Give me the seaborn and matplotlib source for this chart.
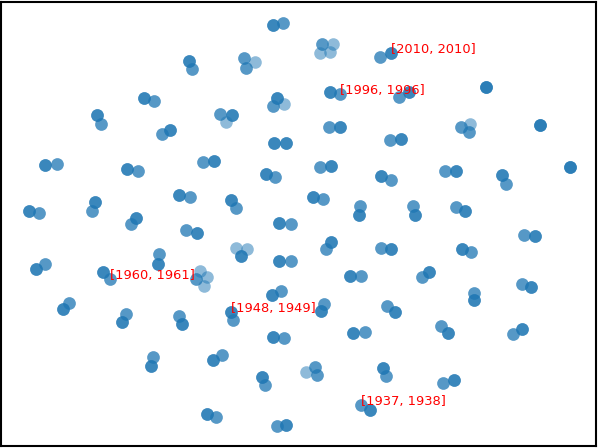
import matplotlib
matplotlib.use("Agg")
import matplotlib.pyplot as plt
import numpy as np
import pandas as pd
import seaborn as sns

# ── Embedding coordinates (y grows upwards) ───────────────────────────────────
# n = how many points sit on top of each other at that spot
x = [273, 283, 189, 192, 244, 246, 255, 144, 154, 97, 101, 220, 232, 226,
     277, 273, 284, 162, 170, 274, 286,
     322, 333, 320, 330, 380, 391, 330, 340, 399, 409, 486, 329, 340, 390, 401,
     461, 470, 469, 540,
     45, 57, 127, 138, 203, 214, 266, 275, 29, 39, 95, 92, 179, 190, 231, 236,
     136, 131, 186, 197, 279, 291, 236, 247, 241, 159, 158, 279, 291, 45, 36,
     103, 110, 200, 196, 207, 204, 281, 272,
     320, 331, 381, 391, 445, 456, 502, 506, 570, 313, 323, 360, 359, 413, 415,
     456, 465, 524, 535, 331, 326, 381, 391, 462, 471, 350, 361, 422, 429,
     522, 531, 474, 474,
     63, 69, 126, 122, 179, 182, 231, 233, 273, 284, 153, 151, 222, 213,
     262, 265, 207, 216, 277, 286,
     324, 321, 387, 395, 353, 365, 441, 448, 513, 522, 306, 315, 317,
     383, 386, 443, 454, 361, 370]
y = [423, 425, 387, 379, 390, 380, 386, 350, 347, 333, 324, 334, 333, 326,
     350, 342, 344, 314, 318, 305, 305,
     404, 404, 395, 396, 391, 395, 356, 354, 351, 356, 361, 321, 321, 308, 309,
     321, 324, 316, 323,
     283, 284, 279, 277, 286, 287, 274, 271, 237, 235, 246, 237, 253, 251, 248, 240,
     230, 224, 218, 215, 225, 224, 200, 199, 192, 194, 184, 187, 187, 184, 179,
     176, 169, 177, 169, 171, 162, 157, 153,
     281, 282, 272, 268, 277, 277, 273, 264, 281, 251, 249, 242, 233, 242, 233,
     241, 237, 213, 212, 206, 199, 200, 199, 199, 196, 172, 172, 171, 176,
     164, 161, 155, 148,
     139, 145, 134, 126, 132, 124, 136, 128, 111, 110, 91, 82, 93, 88,
     71, 63, 34, 31, 22, 23,
     144, 137, 142, 136, 115, 116, 122, 115, 114, 119, 76, 81, 73,
     80, 72, 65, 68, 43, 38]
n = [3, 2, 3, 2, 2, 2, 1, 3, 2, 3, 2, 2, 3, 1,
     3, 2, 1, 2, 3, 3, 3,
     2, 1, 1, 1, 2, 3, 3, 2, 2, 3, 4, 2, 3, 2, 3,
     2, 1, 2, 4,
     3, 2, 3, 2, 2, 3, 3, 2, 3, 2, 3, 2, 3, 2, 3, 2,
     3, 2, 2, 3, 3, 2, 1, 1, 3, 2, 3, 3, 2, 2, 3,
     3, 2, 1, 2, 1, 1, 2, 3,
     2, 3, 3, 2, 2, 3, 3, 2, 4, 3, 2, 2, 3, 2, 3,
     2, 3, 2, 3, 3, 2, 2, 3, 3, 2, 3, 2, 2, 3,
     2, 3, 2, 3,
     3, 2, 2, 3, 2, 3, 3, 2, 3, 2, 2, 3, 2, 3,
     3, 2, 3, 2, 2, 3,
     2, 3, 2, 3, 3, 2, 2, 3, 2, 3, 1, 2, 2,
     3, 2, 2, 3, 2, 3]

# annotated year pairs and where they sit
label_text = ["[2010, 2010]", "[1996, 1996]", "[1960, 1961]", "[1948, 1949]", "[1937, 1938]"]
label_x = [391, 340, 110, 231, 361]
label_y = [395, 354, 169, 136, 43]

df = pd.DataFrame({"x": np.repeat(x, n), "y": np.repeat(y, n)})

sns.set_style("white")
fig = plt.figure(figsize=(5.98, 4.48), dpi=100)
ax = fig.add_axes([0.0025, 0.0045, 0.9935, 0.9915])

sns.scatterplot(data=df, x="x", y="y", ax=ax, color="#1f77b4", alpha=0.5,
                s=82, linewidth=0, legend=False)

for t, lx, ly in zip(label_text, label_x, label_y):
    ax.text(lx, ly, t, color="red", fontsize=9.4)

ax.set_xlim(1.5, 595.5)
ax.set_ylim(2, 446.5)
ax.set_xticks([])
ax.set_yticks([])
ax.set_xlabel("")
ax.set_ylabel("")
for sp in ax.spines.values():
    sp.set_color("black")
    sp.set_linewidth(1.5)

plt.savefig("out.png", dpi=100)
plt.close()
